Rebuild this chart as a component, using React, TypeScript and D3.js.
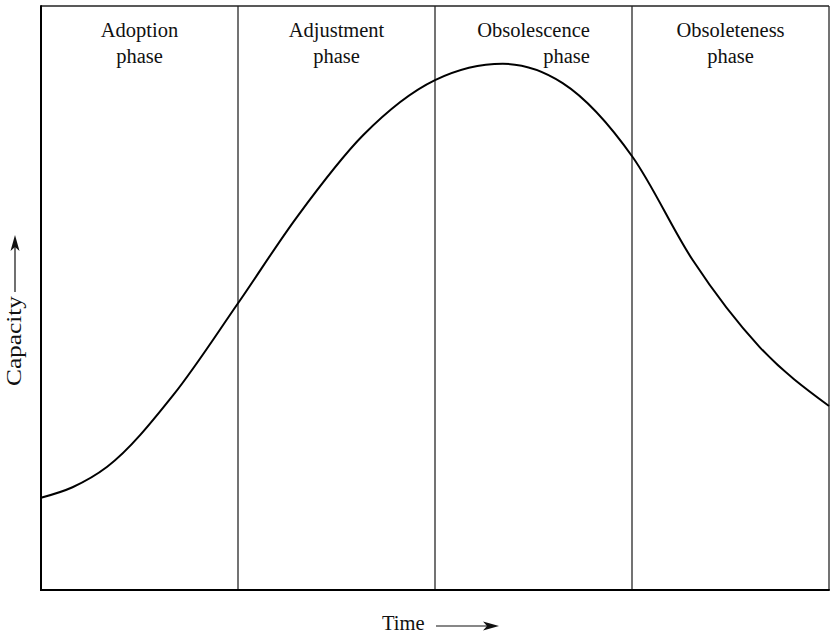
import React, { useEffect, useRef } from 'react';
import * as d3 from 'd3';

// phase boundaries along the time axis (0..100)
const phaseBounds = [0, 25, 50, 75, 100];
const phaseTitles = ['Adoption', 'Adjustment', 'Obsolescence', 'Obsoleteness'];
const phaseSub = ['phase', 'phase', 'phase', 'phase'];
// the third label has its second line flushed right
const phaseSubAlign = ['middle', 'middle', 'end', 'middle'];

// capacity curve
const timeVals = [0, 4, 8.4, 16.8, 25, 32.5, 40.9, 50, 58.6, 66.2, 75.1, 82.7, 91.2, 100];
const capacityVals = [15.8, 17.6, 21.1, 33.4, 49.1, 63.9, 77.9, 87.3, 90.1, 86.8, 74.1, 56.5, 41.6, 31.5];

const W = 830;
const H = 634;
const FONT = '"Liberation Serif", "Times New Roman", serif';

const App = () => {
  const svgRef = useRef<SVGSVGElement>(null);

  useEffect(() => {
    const svg = d3.select(svgRef.current).attr('width', W).attr('height', H);
    svg.selectAll('*').remove();

    const margin = { top: 6, right: 1, bottom: 44, left: 41 };
    const width = W - margin.left - margin.right;
    const height = H - margin.top - margin.bottom;

    const x = d3.scaleLinear().domain([0, 100]).range([margin.left, margin.left + width]);
    const y = d3.scaleLinear().domain([0, 100]).range([margin.top + height, margin.top]);

    // phase dividers
    svg.append('g')
      .selectAll('line')
      .data(phaseBounds.slice(1))
      .enter()
      .append('line')
      .attr('x1', d => x(d))
      .attr('x2', d => x(d))
      .attr('y1', y(100))
      .attr('y2', y(0))
      .attr('stroke', '#444')
      .attr('stroke-width', 1.5);

    // frame: top, left and bottom
    svg.append('line')
      .attr('x1', x(0)).attr('x2', x(100))
      .attr('y1', y(100)).attr('y2', y(100))
      .attr('stroke', '#222').attr('stroke-width', 1.5);
    svg.append('line')
      .attr('x1', x(0)).attr('x2', x(0))
      .attr('y1', y(100) - 0.75).attr('y2', y(0) + 1)
      .attr('stroke', '#000').attr('stroke-width', 2);
    svg.append('line')
      .attr('x1', x(0)).attr('x2', x(100) + 0.75)
      .attr('y1', y(0)).attr('y2', y(0))
      .attr('stroke', '#000').attr('stroke-width', 2);

    // curve
    const pts: [number, number][] = timeVals.map((t, i) => [t, capacityVals[i]]);
    const line = d3.line<[number, number]>()
      .x(d => x(d[0]))
      .y(d => y(d[1]))
      .curve(d3.curveMonotoneX);
    svg.append('path')
      .datum(pts)
      .attr('d', line)
      .attr('fill', 'none')
      .attr('stroke', '#000')
      .attr('stroke-width', 2);

    // phase labels
    const labels = svg.append('g')
      .style('font-family', FONT)
      .style('font-size', '20.5px')
      .attr('fill', '#111');
    phaseTitles.forEach((title, i) => {
      const cx = (x(phaseBounds[i]) + x(phaseBounds[i + 1])) / 2;
      const t1 = labels.append('text')
        .attr('x', cx)
        .attr('y', 37)
        .attr('text-anchor', 'middle')
        .text(title);
      let sx = cx;
      if (phaseSubAlign[i] === 'end') {
        const node = t1.node() as SVGTextElement;
        sx = cx + node.getComputedTextLength() / 2;
      }
      labels.append('text')
        .attr('x', sx)
        .attr('y', 63)
        .attr('text-anchor', phaseSubAlign[i])
        .text(phaseSub[i]);
    });

    // axis titles with arrows
    const axisG = svg.append('g')
      .style('font-family', FONT)
      .style('font-size', '20.5px')
      .attr('fill', '#111');

    axisG.append('text')
      .attr('x', 382)
      .attr('y', 630)
      .text('Time');
    axisG.append('line')
      .attr('x1', 436).attr('x2', 488)
      .attr('y1', 626).attr('y2', 626)
      .attr('stroke', '#111').attr('stroke-width', 1.2);
    axisG.append('path')
      .attr('d', 'M499,626 L483,621.5 L487,626 L483,630.5 Z')
      .attr('fill', '#111');

    axisG.append('text')
      .attr('transform', 'translate(21,386) rotate(-90)')
      .attr('textLength', 90)
      .attr('lengthAdjust', 'spacingAndGlyphs')
      .style('font-size', '22px')
      .text('Capacity');
    axisG.append('line')
      .attr('x1', 15).attr('x2', 15)
      .attr('y1', 292).attr('y2', 246)
      .attr('stroke', '#111').attr('stroke-width', 1.2);
    axisG.append('path')
      .attr('d', 'M15,235 L10.5,251 L15,247 L19.5,251 Z')
      .attr('fill', '#111');
  }, []);

  return <svg ref={svgRef} style={{ position: 'absolute', left: 0, top: 0, background: '#fff' }}></svg>;
};

export default App;
